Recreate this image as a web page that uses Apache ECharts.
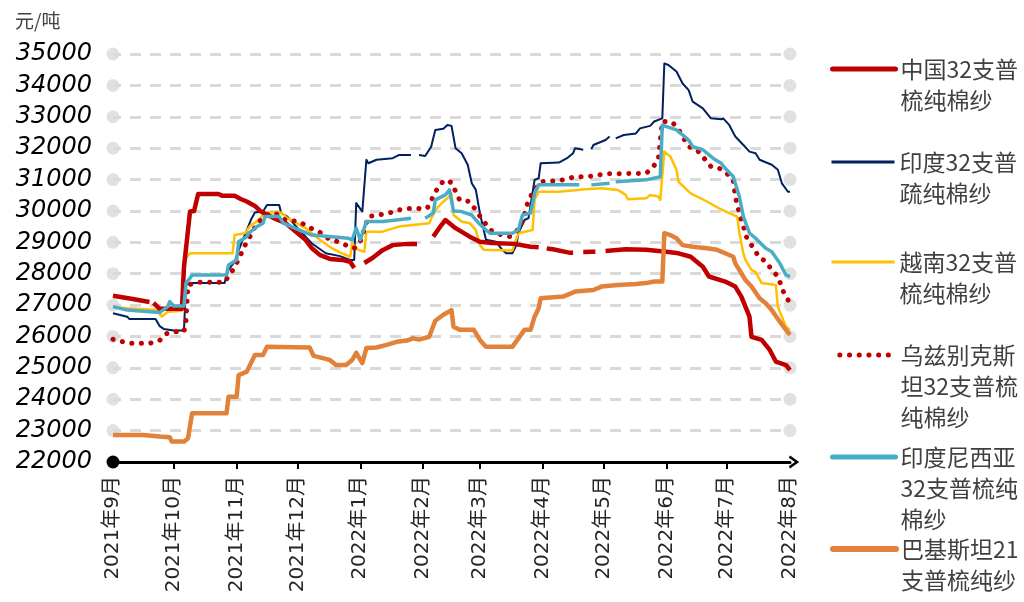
<!DOCTYPE html>
<html>
<head>
<meta charset="utf-8">
<script src="https://cdn.jsdelivr.net/npm/echarts@6/dist/echarts.min.js"></script>
<style>
html,body{margin:0;padding:0;background:#fff;}
#chart{width:1024px;height:602px;}
</style>
</head>
<body>
<div id="chart"></div>
<script>
// ---------- data ----------
const xMin = '2021-09-01';
const xMax = '2022-08-01';
const monthTicks = ['2021-09-01','2021-10-01','2021-11-01','2021-12-01','2022-01-01','2022-02-01','2022-03-01','2022-04-01','2022-05-01','2022-06-01','2022-07-01','2022-08-01'];
const yMin = 22000, yMax = 35000, yStep = 1000;
const yTicks = [23000,24000,25000,26000,27000,28000,29000,30000,31000,32000,33000,34000,35000];
const unitLabel = '元/吨';

const seriesNames = ['中国32支普梳纯棉纱','印度32支普疏纯棉纱','越南32支普梳纯棉纱','乌兹别克斯坦32支普梳纯棉纱','印度尼西亚32支普梳纯棉纱','巴基斯坦21支普梳纯纱'];
const legendLines = [
  ['中国32支普','梳纯棉纱'],
  ['印度32支普','疏纯棉纱'],
  ['越南32支普','梳纯棉纱'],
  ['乌兹别克斯','坦32支普梳','纯棉纱'],
  ['印度尼西亚','32支普梳纯','棉纱'],
  ['巴基斯坦21','支普梳纯纱']
];

const china = [
['2021-09-01',27300],['2021-09-10',27200],['2021-09-19',27100],['2021-09-20',null],['2021-09-21',27070],['2021-09-24',26880],
['2021-09-28',26880],['2021-10-05',26880],['2021-10-06',28200],['2021-10-09',29980],['2021-10-11',30000],['2021-10-13',30540],
['2021-10-23',30540],['2021-10-25',30480],['2021-10-31',30480],['2021-11-03',30380],['2021-11-06',30300],['2021-11-10',30160],
['2021-11-13',29980],['2021-11-19',29780],['2021-11-25',29620],['2021-12-02',29240],['2021-12-05',29080],['2021-12-08',28820],
['2021-12-12',28600],['2021-12-17',28470],['2021-12-23',28440],['2021-12-27',28380],['2021-12-29',28180],['2021-12-31',null],
['2022-01-03',28340],['2022-01-07',28500],['2022-01-12',28750],['2022-01-17',28910],['2022-01-24',28950],['2022-01-29',28950],
['2022-02-02',null],['2022-02-06',29180],['2022-02-10',29550],['2022-02-12',29710],['2022-02-17',29450],['2022-02-24',29180],
['2022-03-01',29020],['2022-03-07',28980],['2022-03-18',28950],['2022-03-26',28860],['2022-03-30',28840],['2022-04-01',null],
['2022-04-03',28800],['2022-04-06',28780],['2022-04-14',28670],['2022-04-16',28670],['2022-04-18',null],['2022-04-21',28690],
['2022-04-25',28700],['2022-04-27',28700],['2022-04-29',null],['2022-05-02',28720],['2022-05-12',28780],['2022-05-22',28760],
['2022-06-01',28700],['2022-06-07',28650],['2022-06-13',28540],['2022-06-19',28220],['2022-06-22',27910],['2022-06-30',27750],
['2022-07-05',27590],['2022-07-08',27270],['2022-07-12',26630],['2022-07-13',25990],['2022-07-18',25890],['2022-07-22',25570],
['2022-07-25',25200],['2022-07-30',25090],['2022-08-01',24930]
];

const india = [
['2021-09-01',26740],['2021-09-08',26630],['2021-09-09',26560],['2021-09-22',26560],['2021-09-24',26330],['2021-09-26',26240],
['2021-10-01',26190],['2021-10-06',26190],['2021-10-07',27640],['2021-10-09',27700],['2021-10-26',27700],['2021-10-28',28120],
['2021-10-31',28380],['2021-11-02',28750],['2021-11-05',29230],['2021-11-08',29710],['2021-11-10',29950],['2021-11-14',29980],
['2021-11-16',30190],['2021-11-22',30190],['2021-11-23',29930],['2021-11-26',29820],['2021-12-02',29390],['2021-12-08',28970],
['2021-12-15',28650],['2021-12-22',28560],['2021-12-27',28440],['2021-12-29',28440],['2021-12-30',30250],['2022-01-02',29980],
['2022-01-04',31630],['2022-01-05',31520],['2022-01-09',31630],['2022-01-17',31680],['2022-01-20',31780],['2022-01-26',31780],
['2022-01-28',null],['2022-01-30',31780],['2022-02-02',31750],['2022-02-05',32050],['2022-02-07',32580],['2022-02-11',32620],
['2022-02-13',32740],['2022-02-15',32710],['2022-02-17',32000],['2022-02-20',31840],['2022-02-23',31470],['2022-02-25',30880],
['2022-02-27',30670],['2022-03-01',29930],['2022-03-04',29080],['2022-03-09',29020],['2022-03-12',28760],['2022-03-14',28650],
['2022-03-17',28650],['2022-03-19',28910],['2022-03-20',29290],['2022-03-23',29710],['2022-03-25',29770],['2022-03-28',30990],
['2022-03-30',31040],['2022-03-31',31520],['2022-04-09',31540],['2022-04-13',31680],['2022-04-16',31840],['2022-04-17',32000],
['2022-04-21',31950],['2022-04-23',null],['2022-04-25',31970],['2022-04-26',32100],['2022-05-02',32260],['2022-05-04',32370],
['2022-05-06',null],['2022-05-07',32310],['2022-05-11',32420],['2022-05-17',32470],['2022-05-19',32630],['2022-05-24',32710],
['2022-05-26',32850],['2022-05-30',32950],['2022-05-31',34700],['2022-06-02',34650],['2022-06-06',34440],['2022-06-09',34060],
['2022-06-12',33850],['2022-06-14',33480],['2022-06-19',33270],['2022-06-23',32950],['2022-06-28',32920],['2022-06-29',32950],
['2022-07-02',32740],['2022-07-05',32370],['2022-07-09',32100],['2022-07-12',31890],['2022-07-15',31840],['2022-07-17',31630],
['2022-07-23',31470],['2022-07-26',31310],['2022-07-28',30880],['2022-07-31',30610],['2022-08-01',30610]
];

const vietnam = [
['2021-09-01',26950],['2021-09-08',26900],['2021-09-23',26840],['2021-09-25',26630],['2021-09-28',26790],['2021-10-05',26820],
['2021-10-06',28440],['2021-10-09',28650],['2021-10-30',28650],['2021-10-31',29230],['2021-11-05',29290],['2021-11-08',29550],
['2021-11-11',29660],['2021-11-14',29870],['2021-11-16',29950],['2021-11-23',29950],['2021-11-26',29770],['2021-12-05',29450],
['2021-12-12',29080],['2021-12-18',28810],['2021-12-23',28650],['2021-12-27',28540],['2021-12-28',28970],['2021-12-31',28760],
['2022-01-03',28700],['2022-01-04',29340],['2022-01-12',29340],['2022-01-20',29500],['2022-01-27',29550],['2022-02-04',29610],
['2022-02-07',30030],['2022-02-11',30300],['2022-02-14',30460],['2022-02-15',30560],['2022-02-16',29870],['2022-02-20',29660],
['2022-02-24',29610],['2022-02-27',29390],['2022-03-01',28910],['2022-03-03',28760],['2022-03-17',28740],['2022-03-20',29290],
['2022-03-27',29390],['2022-03-28',30350],['2022-03-30',30610],['2022-04-09',30610],['2022-04-22',30690],['2022-04-30',30720],
['2022-05-08',30670],['2022-05-12',30510],['2022-05-13',30370],['2022-05-22',30400],['2022-05-24',30510],['2022-05-28',30460],
['2022-05-29',30350],['2022-05-31',31890],['2022-06-03',31730],['2022-06-06',31310],['2022-06-07',30930],['2022-06-13',30560],
['2022-06-21',30300],['2022-06-27',30080],['2022-07-02',29930],['2022-07-06',29820],['2022-07-07',29300],['2022-07-09',28650],
['2022-07-10',28440],['2022-07-13',28120],['2022-07-15',28060],['2022-07-18',27700],['2022-07-25',27640],['2022-07-26',26950],
['2022-07-28',26630],['2022-07-30',26310],['2022-08-01',26210]
];

const uzbek = [
['2021-09-01',25910],['2021-09-06',25830],['2021-09-10',25780],['2021-09-19',25780],['2021-09-24',25870],['2021-09-27',26080],
['2021-10-01',26150],['2021-10-06',26150],['2021-10-07',26470],['2021-10-08',27640],['2021-10-13',27730],['2021-10-26',27730],
['2021-10-31',28200],['2021-11-04',28750],['2021-11-06',29020],['2021-11-08',29230],['2021-11-11',29610],['2021-11-16',29870],
['2021-11-20',29930],['2021-11-25',29710],['2021-12-02',29660],['2021-12-06',29500],['2021-12-13',29290],['2021-12-17',29080],
['2021-12-21',29020],['2021-12-25',28910],['2021-12-29',28810],['2022-01-01',29020],['2022-01-05',29820],['2022-01-10',29870],
['2022-01-15',29930],['2022-01-20',30030],['2022-01-25',30080],['2022-02-03',30080],['2022-02-06',30460],['2022-02-09',30830],
['2022-02-12',30990],['2022-02-15',30900],['2022-02-19',30350],['2022-02-24',30300],['2022-02-28',29930],['2022-03-03',29660],
['2022-03-06',29390],['2022-03-12',29230],['2022-03-16',29180],['2022-03-19',29340],['2022-03-22',29660],['2022-03-25',30350],
['2022-03-28',30670],['2022-03-31',30930],['2022-04-09',30960],['2022-04-17',31090],['2022-04-23',31090],['2022-05-02',31180],
['2022-05-22',31200],['2022-05-25',31360],['2022-05-28',31630],['2022-05-30',32850],['2022-06-03',32850],['2022-06-06',32710],
['2022-06-09',32370],['2022-06-12',32050],['2022-06-16',31950],['2022-06-19',31730],['2022-06-23',31410],['2022-06-27',31360],
['2022-06-30',31250],['2022-07-04',30990],['2022-07-05',30460],['2022-07-07',29930],['2022-07-09',29500],['2022-07-11',29080],
['2022-07-13',28910],['2022-07-17',28500],['2022-07-20',28400],['2022-07-23',28120],['2022-07-26',27910],['2022-07-29',27380],
['2022-08-01',27060]
];

const indonesia = [
['2021-09-01',26950],['2021-09-08',26840],['2021-09-24',26760],['2021-09-28',26950],['2021-09-29',27110],['2021-10-01',26970],
['2021-10-06',26970],['2021-10-07',27700],['2021-10-09',27860],['2021-10-10',27960],['2021-10-27',27960],['2021-10-28',28280],
['2021-11-01',28440],['2021-11-02',29020],['2021-11-06',29180],['2021-11-07',29290],['2021-11-11',29500],['2021-11-14',29610],
['2021-11-15',29820],['2021-11-22',29820],['2021-11-24',29610],['2021-12-02',29390],['2021-12-08',29230],['2021-12-18',29180],
['2021-12-26',29130],['2021-12-28',29080],['2021-12-30',29450],['2022-01-01',29080],['2022-01-04',29660],['2022-01-12',29660],
['2022-01-19',29710],['2022-01-26',29770],['2022-01-28',null],['2022-02-02',29770],['2022-02-06',29930],['2022-02-07',30350],
['2022-02-12',30510],['2022-02-14',30670],['2022-02-16',30000],['2022-02-20',29980],['2022-02-25',29870],['2022-02-28',29640],
['2022-03-04',29390],['2022-03-06',29290],['2022-03-17',29290],['2022-03-20',29390],['2022-03-22',29870],['2022-03-26',29930],
['2022-03-28',30560],['2022-03-30',30830],['2022-04-19',30830],['2022-04-21',null],['2022-04-25',30830],['2022-05-04',30880],
['2022-05-06',null],['2022-05-07',30930],['2022-05-22',30990],['2022-05-29',31090],['2022-05-30',32740],['2022-05-31',32710],
['2022-06-06',32580],['2022-06-09',32420],['2022-06-12',32260],['2022-06-14',32050],['2022-06-19',31950],['2022-06-24',31680],
['2022-06-28',31520],['2022-06-30',31360],['2022-07-04',31100],['2022-07-07',30460],['2022-07-09',29820],['2022-07-12',29290],
['2022-07-15',29130],['2022-07-20',28810],['2022-07-23',28700],['2022-07-27',28330],['2022-07-30',27960],['2022-08-01',27910]
];

const pakistan = [
['2021-09-01',22860],['2021-09-16',22860],['2021-09-24',22810],['2021-09-29',22790],['2021-09-30',22650],['2021-10-06',22650],
['2021-10-08',22750],['2021-10-10',23550],['2021-10-27',23550],['2021-10-28',24080],['2021-11-01',24080],['2021-11-02',24770],
['2021-11-06',24880],['2021-11-10',25410],['2021-11-14',25410],['2021-11-16',25670],['2021-12-07',25650],['2021-12-09',25380],
['2021-12-14',25300],['2021-12-17',25250],['2021-12-20',25090],['2021-12-25',25090],['2021-12-28',25250],['2021-12-30',25480],
['2022-01-02',25150],['2022-01-04',25630],['2022-01-09',25650],['2022-01-14',25730],['2022-01-19',25830],['2022-01-24',25870],
['2022-01-27',25940],['2022-01-30',25900],['2022-02-04',25990],['2022-02-07',26500],['2022-02-11',26690],['2022-02-15',26840],
['2022-02-16',26310],['2022-02-19',26210],['2022-02-26',26210],['2022-03-01',25890],['2022-03-04',25670],['2022-03-17',25670],
['2022-03-20',25940],['2022-03-23',26210],['2022-03-26',26210],['2022-03-28',26630],['2022-03-30',26900],['2022-03-31',27220],
['2022-04-11',27270],['2022-04-17',27430],['2022-04-26',27480],['2022-04-30',27590],['2022-05-08',27640],['2022-05-17',27670],
['2022-05-22',27700],['2022-05-26',27750],['2022-05-30',27750],['2022-05-31',29290],['2022-06-03',29230],['2022-06-06',29130],
['2022-06-09',28910],['2022-06-14',28860],['2022-06-21',28810],['2022-06-26',28760],['2022-06-30',28650],['2022-07-04',28540],
['2022-07-05',28330],['2022-07-07',28120],['2022-07-10',27800],['2022-07-13',27590],['2022-07-17',27220],['2022-07-20',27060],
['2022-07-23',26840],['2022-07-27',26470],['2022-07-30',26210],['2022-08-01',26050]
];

// ---------- build ----------
const ts = s => new Date(s + 'T00:00:00').getTime();
const monthTs = monthTicks.map(ts);
const seriesData = [china, india, vietnam, uzbek, indonesia, pakistan];

const styles = [
  {color:'#C00000', width:4.5},
  {color:'#002060', width:2},
  {color:'#FFC000', width:2.5},
  {color:'#C00000', width:5, type:[0.1, 9.5], cap:'round'},
  {color:'#4BACC6', width:3.5},
  {color:'#E2823A', width:4.5}
];
const legendLineStyles = [
  {color:'#C00000', width:5, cap:'round'},
  {color:'#002060', width:3},
  {color:'#FFC000', width:3},
  {color:'#C00000', width:5, type:[0.1, 9.6], cap:'round'},
  {color:'#4BACC6', width:5, cap:'round'},
  {color:'#E2823A', width:6, cap:'round'}
];
const zOrder = [3, 2, 2, 4, 5, 3];
const legendCenters = [69, 162, 262, 355, 457, 549];
const lineH = 31;

const lineSeries = seriesNames.map((name, i) => ({
  name: name,
  type: 'line',
  data: seriesData[i].map(p => [ts(p[0]), p[1]]),
  symbol: 'none',
  connectNulls: false,
  z: zOrder[i],
  lineStyle: Object.assign({join:'round'}, styles[i]),
  itemStyle: {color: styles[i].color},
  emphasis: {disabled: true},
  animation: false
}));

const dotData = [];
yTicks.forEach(v => { dotData.push([ts(xMin), v]); dotData.push([ts(xMax), v]); });

const legends = seriesNames.map((name, i) => {
  const n = legendLines[i].length;
  const H = (2 * n - 1) * lineH;
  return {
    data: [name],
    left: 830,
    top: legendCenters[i] - H / 2,
    padding: 0,
    itemWidth: 63,
    itemHeight: 14,
    selectedMode: false,
    itemStyle: {opacity: 0, borderWidth: 0},
    lineStyle: legendLineStyles[i],
    formatter: nm => '\n'.repeat(n - 1) + legendLines[i].join('\n'),
    textStyle: {fontSize: 23, lineHeight: lineH, color: '#404040', fontFamily: "'Noto Sans CJK SC'"}
  };
});

const chevron = 'path://M0,14 L10,0 L20,14 L16.5,16 L10,6.5 L3.5,16 Z';

const option = {
  animation: false,
  backgroundColor: '#fff',
  title: {
    text: unitLabel, left: 10, top: 6,
    textStyle: {fontSize: 19, fontWeight: 'normal', color: '#404040', fontFamily: "'Noto Sans CJK SC'"}
  },
  legend: legends,
  grid: {left: 113, right: 234, top: 54, bottom: 140, containLabel: false},
  xAxis: {
    type: 'value',
    min: ts(xMin),
    max: ts(xMax),
    axisLine: {
      show: true, onZero: false,
      lineStyle: {color: '#000', width: 3},
      symbol: ['circle', chevron],
      symbolSize: [13, 13],
      symbolOffset: [0, 4]
    },
    axisTick: {show: true, length: 7, lineStyle: {color: '#000', width: 2}, customValues: monthTs.slice(1, -1)},
    axisLabel: {
      rotate: 90, margin: 14, customValues: monthTs,
      showMinLabel: true, showMaxLabel: true, hideOverlap: false,
      fontSize: 20, color: '#262626', fontFamily: "'DejaVu Sans','Noto Sans CJK SC'",
      formatter: v => { const d = new Date(v); return d.getFullYear() + '年' + (d.getMonth() + 1) + '月'; }
    },
    splitLine: {show: false}
  },
  yAxis: {
    type: 'value',
    min: yMin, max: yMax, interval: yStep,
    axisLine: {show: false},
    axisTick: {show: false},
    axisLabel: {
      margin: 21, fontSize: 24, fontStyle: 'italic', color: '#000',
      fontFamily: "'DejaVu Sans'",
      formatter: v => String(v)
    },
    splitLine: {show: true, lineStyle: {color: '#D9D9D9', width: 3, type: [11, 9], dashOffset: -17}}
  },
  series: [
    {
      type: 'scatter', data: dotData, symbol: 'circle', symbolSize: 13,
      itemStyle: {color: '#D9D9D9'}, z: 1, clip: false, silent: true,
      emphasis: {disabled: true}
    }
  ].concat(lineSeries)
};

const chart = echarts.init(document.getElementById('chart'), null, {renderer: 'canvas'});
chart.setOption(option);
</script>
</body>
</html>
